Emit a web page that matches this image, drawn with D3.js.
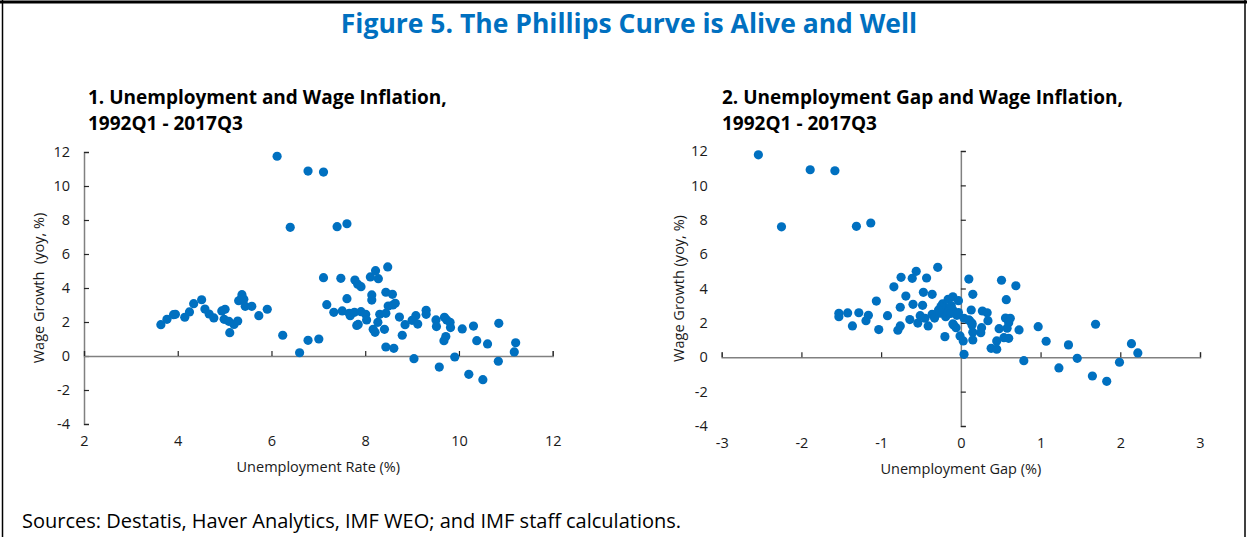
<!DOCTYPE html>
<html>
<head>
<meta charset="utf-8">
<script src="https://cdn.jsdelivr.net/npm/d3@7"></script>
<style>
  body { margin: 0; background: #fff; }
  svg text { font-family: "Open Sans", "Noto Sans", sans-serif; }
</style>
</head>
<body>
<svg id="mainSVG" width="1247" height="537"></svg>
<script>
var mainSVG = d3.select("#mainSVG");

// Unemployment rate (%) vs wage growth (yoy, %)
var rateX = [3.64,3.77,3.91,3.95,4.15,4.25,4.34,4.51,4.58,4.67,4.77,4.94,5.01,4.99,5.09,5.11,5.20,5.28,5.30,5.37,
  5.36,5.41,5.44,5.58,5.73,5.91,6.24,6.60,6.78,7.01,6.12,6.78,6.40,7.11,7.40,7.61,7.11,7.48,7.78,7.84,
  7.91,8.11,8.22,8.28,8.48,8.14,8.14,8.44,8.58,7.61,7.18,7.33,7.51,7.66,7.68,7.77,7.91,8.01,8.03,7.82,
  7.85,8.17,8.21,8.27,8.31,8.44,8.41,8.49,8.59,8.64,8.73,8.79,8.85,8.44,8.61,9.00,9.08,9.12,9.04,9.30,
  9.30,9.51,9.52,9.69,9.74,9.81,9.82,9.72,9.68,9.58,9.91,10.07,10.31,10.38,10.61,10.85,10.84,10.21,10.51,11.21,11.18];
var rateY = [1.84,2.16,2.43,2.45,2.28,2.59,3.08,3.31,2.76,2.47,2.24,2.65,2.75,2.16,2.04,1.37,1.86,2.06,3.25,3.61,
  3.39,3.34,2.92,2.92,2.37,2.75,1.22,0.19,0.92,1.00,11.75,10.88,7.57,10.82,7.61,7.78,4.61,4.57,4.47,4.22,
  4.08,4.65,5.02,4.55,5.24,3.59,3.29,3.75,3.63,3.37,3.02,2.57,2.65,2.51,2.37,2.57,2.61,2.45,2.12,1.80,
  1.86,1.57,1.39,1.98,2.45,2.51,1.57,2.94,3.00,3.10,2.29,1.22,1.84,0.53,0.45,2.10,2.37,1.88,-0.16,2.69,
  2.45,2.12,1.73,2.28,2.12,1.98,1.67,1.14,0.90,-0.65,-0.06,1.59,1.76,0.90,0.71,1.92,-0.31,-1.08,-1.39,0.78,0.24];

// Unemployment gap (%) vs wage growth (yoy, %)
var gapX = [-2.54,-2.25,-1.89,-1.58,-1.31,-1.13,-0.84,-0.75,-0.61,-0.56,-0.43,-0.29,0.10,0.51,0.69,0.15,0.57,-0.69,-0.47,-0.36,
  -1.06,-0.60,-0.48,-0.76,-0.16,-0.10,-0.03,-0.23,-0.21,-1.53,-1.53,-1.42,-1.28,-1.16,-1.19,-1.36,-1.03,-0.92,-0.79,-0.76,
  -0.64,-0.54,-0.51,-0.45,-0.41,-0.36,-0.33,-0.26,-0.19,-0.16,-0.10,-0.05,-0.09,-0.06,-0.20,-0.01,0.03,0.04,0.04,0.10,
  0.13,0.14,0.15,0.15,0.27,0.33,0.34,0.26,0.25,0.45,0.38,0.45,0.48,0.56,0.62,0.60,0.58,0.54,0.60,0.73,
  0.11,0.14,-0.10,0.97,1.07,0.79,1.23,1.35,1.46,1.69,1.65,1.83,1.99,2.14,2.22,-0.25,-0.13,-0.03,-0.28,-0.12];
var gapY = [11.78,7.59,10.91,10.85,7.62,7.81,4.10,4.65,4.59,5.00,4.61,5.23,4.55,4.48,4.16,3.66,3.35,3.56,3.78,3.66,
  3.27,3.08,3.02,2.91,3.37,3.52,3.29,3.10,2.85,2.56,2.36,2.58,2.59,2.44,2.13,1.82,1.61,2.42,1.57,1.82,
  2.19,1.99,2.42,2.27,1.82,2.50,2.28,2.56,2.36,2.65,2.75,2.44,1.88,1.72,1.20,1.24,0.95,0.17,2.27,2.17,
  2.75,1.98,1.45,1.01,2.69,2.59,2.13,1.72,1.43,0.95,0.52,0.47,1.66,2.28,2.27,2.01,1.69,1.14,1.10,1.59,
  2.13,1.88,1.94,1.78,0.93,-0.20,-0.62,0.72,-0.06,1.92,-1.09,-1.40,-0.29,0.79,0.25,2.95,2.55,2.60,2.75,3.00];

var yTicks = [-4,-2,0,2,4,6,8,10,12];
var rateTicks = [2,4,6,8,10,12];
var gapTicks = [-3,-2,-1,0,1,2,3];

var pontoCor = "#0070c0";
var fmt = function (d) { return String(d); };   // hifen simples, sem casas decimais

// Moldura
mainSVG.append("line").attr("x1",0).attr("x2",1247).attr("y1",2).attr("y2",2)
  .attr("stroke","#000").attr("stroke-width",3);
mainSVG.append("line").attr("x1",2.5).attr("x2",2.5).attr("y1",0).attr("y2",537)
  .attr("stroke","#000").attr("stroke-width",1.5);
mainSVG.append("line").attr("x1",1245).attr("x2",1245).attr("y1",0).attr("y2",537)
  .attr("stroke","#000").attr("stroke-width",1.5);

// Titulo
mainSVG.append("text")
  .attr("x",629).attr("y",33)
  .attr("text-anchor","middle")
  .style("font-size","26.5px").style("font-weight","bold")
  .style("fill",pontoCor)
  .text("Figure 5. The Phillips Curve is Alive and Well");

// Fontes
mainSVG.append("text")
  .attr("x",22).attr("y",528)
  .style("font-size","20px").style("fill","#000")
  .text("Sources: Destatis, Haver Analytics, IMF WEO; and IMF staff calculations.");

function painel(cfg) {
  var xScale = d3.scaleLinear().domain(cfg.xDomain).range([cfg.left, cfg.right]);
  var yScale = d3.scaleLinear().domain([-4,12]).range([cfg.bottom, cfg.top]);

  var g = mainSVG.append("g");

  // subtitulo
  var sub = g.append("text").attr("x",cfg.titleX).attr("y",104)
    .style("font-size","19px").style("font-weight","bold").style("fill","#000");
  sub.append("tspan").attr("x",cfg.titleX).attr("dy",0).text(cfg.title1);
  sub.append("tspan").attr("x",cfg.titleX).attr("dy",26).text(cfg.title2);

  // eixo y (linha com ticks para dentro)
  var yAxisGroup = g.append("g").attr("class","axis")
    .attr("transform","translate(" + xScale(cfg.yAt) + ",0)");
  yAxisGroup.call(d3.axisRight(yScale).tickValues(yTicks).tickSize(5).tickFormat(""));

  // eixo x no zero
  var xAxisGroup = g.append("g").attr("class","axis")
    .attr("transform","translate(0," + yScale(0) + ")");
  xAxisGroup.call(d3.axisTop(xScale).tickValues(cfg.xTicks).tickSize(5).tickFormat(""));

  g.selectAll(".axis path").attr("stroke","#808080").attr("stroke-width",1.5);
  g.selectAll(".axis line").attr("stroke","#262626").attr("stroke-width",1.2);

  // rotulos y na borda esquerda
  var yLab = g.append("g").attr("transform","translate(" + (cfg.left - 14) + ",0)")
    .call(d3.axisLeft(yScale).tickValues(yTicks).tickSize(0).tickPadding(0).tickFormat(fmt));
  yLab.select(".domain").remove();
  yLab.selectAll("text").style("font-size","14.5px").style("fill","#1a1a1a")
    .style("font-family",'"Open Sans", sans-serif');

  // rotulos x na base
  var xLab = g.append("g").attr("transform","translate(0," + (cfg.bottom + 12) + ")")
    .call(d3.axisBottom(xScale).tickValues(cfg.xTicks).tickSize(0).tickPadding(0).tickFormat(fmt));
  xLab.select(".domain").remove();
  xLab.selectAll("text").style("font-size","14.5px").style("fill","#1a1a1a")
    .style("font-family",'"Open Sans", sans-serif');

  // titulos dos eixos
  g.append("text")
    .attr("x",(cfg.left + cfg.right)/2).attr("y",cfg.bottom + 48)
    .attr("text-anchor","middle")
    .style("font-size","14.5px").style("fill","#1a1a1a")
    .text(cfg.xTitle);
  g.append("text")
    .attr("transform","translate(" + cfg.yTitleX + "," + ((cfg.top + cfg.bottom)/2) + ") rotate(-90)")
    .attr("text-anchor","middle")
    .style("font-size","14.5px").style("fill","#1a1a1a")
    .style("white-space","pre")
    .text(cfg.yTitle);

  // pontos
  var pts = cfg.xs.map(function (v, i) { return {x: v, y: cfg.ys[i]}; });
  g.selectAll("circle")
    .data(pts)
    .enter().append("circle")
    .attr("cx", function (d) { return xScale(d.x); })
    .attr("cy", function (d) { return yScale(d.y); })
    .attr("r", 4.6)
    .attr("fill", pontoCor);
}

painel({
  left: 84, right: 552.7, top: 152, bottom: 424,
  xDomain: [2,12], xTicks: rateTicks, yAt: 2,
  xs: rateX, ys: rateY,
  titleX: 88, title1: "1. Unemployment and Wage Inflation,", title2: "1992Q1 - 2017Q3",
  xTitle: "Unemployment Rate (%)", yTitle: "Wage Growth  (yoy, %)", yTitleX: 44
});

painel({
  left: 721.7, right: 1200, top: 151, bottom: 426,
  xDomain: [-3,3], xTicks: gapTicks, yAt: 0,
  xs: gapX, ys: gapY,
  titleX: 722, title1: "2. Unemployment Gap and Wage Inflation,", title2: "1992Q1 - 2017Q3",
  xTitle: "Unemployment Gap (%)", yTitle: "Wage Growth (yoy, %)", yTitleX: 684
});
</script>
</body>
</html>
